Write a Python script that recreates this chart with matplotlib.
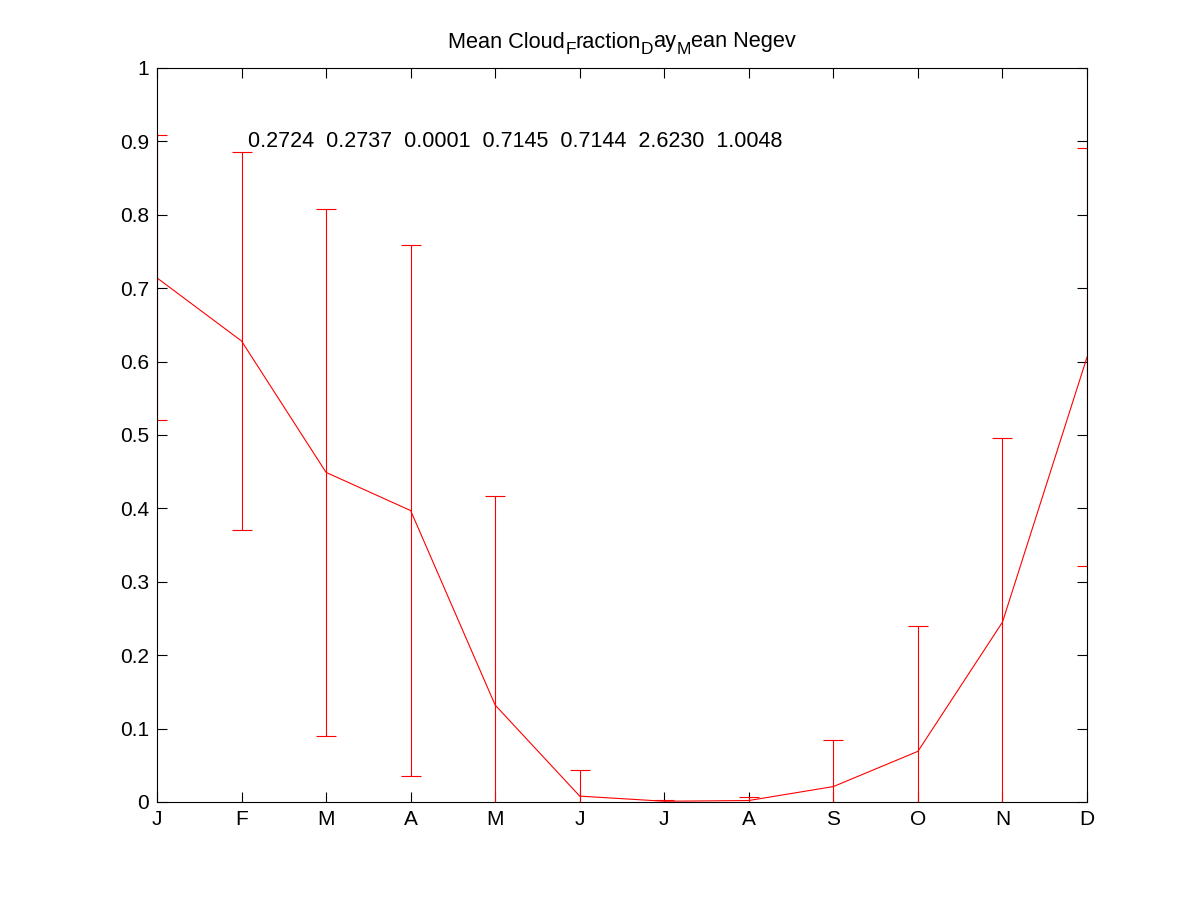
import matplotlib
matplotlib.use("Agg")
import matplotlib.pyplot as plt
import numpy as np

plt.rcParams['font.family'] = ['Liberation Sans', 'DejaVu Sans']

months = ['J', 'F', 'M', 'A', 'M', 'J', 'J', 'A', 'S', 'O', 'N', 'D']
mean_vals = [0.714, 0.628, 0.449, 0.397, 0.132, 0.008, 0.001, 0.002, 0.021, 0.069, 0.245, 0.606]
std_vals = [0.194, 0.258, 0.359, 0.362, 0.285, 0.035, 0.002, 0.005, 0.064, 0.171, 0.251, 0.285]
stats_text = '0.2724  0.2737  0.0001  0.7145  0.7144  2.6230  1.0048'
# title pieces: (text, is_subscript)
title_parts = [('Mean Cloud', False), ('F', True), ('raction', False), ('D', True),
               ('ay', False), ('M', True), ('ean Negev', False)]

W, H = 1201, 901
fig = plt.figure(figsize=(W / 100, H / 100), dpi=100)
ax = fig.add_axes([0.1307, 0.1099, 0.7744, 0.8147])

x = np.arange(1, len(months) + 1)
ax.errorbar(x, mean_vals, yerr=std_vals, color='red', ecolor='red',
            linewidth=0.8, elinewidth=0.8, capsize=7.2, capthick=0.8)

ax.set_xlim(1, 12)
ax.set_ylim(0, 1)
ax.set_xticks(x)
ax.set_xticklabels(months)
ax.set_yticks(np.round(np.arange(0, 1.01, 0.1), 1))
ax.set_yticklabels(['0', '0.1', '0.2', '0.3', '0.4', '0.5', '0.6', '0.7', '0.8', '0.9', '1'])
ax.tick_params(direction='in', length=7.2, width=0.8, top=True, right=True,
               labelsize=15, pad=5.5)
for s in ax.spines.values():
    s.set_linewidth(0.8)

ax.text(2.08, 0.9, stats_text, ha='left', va='center', fontsize=15.5)

# manual title with MATLAB-like subscripts
renderer = fig.canvas.get_renderer()
main_fs, sub_fs = 15.7, 12.5
baseline_px = H - 47.5
sub_shift = 6.5
texts = []
total = 0.0
for s, sub in title_parts:
    t = fig.text(0, 0, s, fontsize=sub_fs if sub else main_fs, ha='left', va='baseline')
    w = t.get_window_extent(renderer=renderer).width
    texts.append((t, w, sub))
    total += w
center_px = (0.1307 + 0.7744 / 2) * W
cur = center_px - total / 2
for t, w, sub in texts:
    y = baseline_px - (sub_shift if sub else 0)
    t.set_position((cur / W, y / H))
    cur += w

fig.savefig('out.png', dpi=100)
